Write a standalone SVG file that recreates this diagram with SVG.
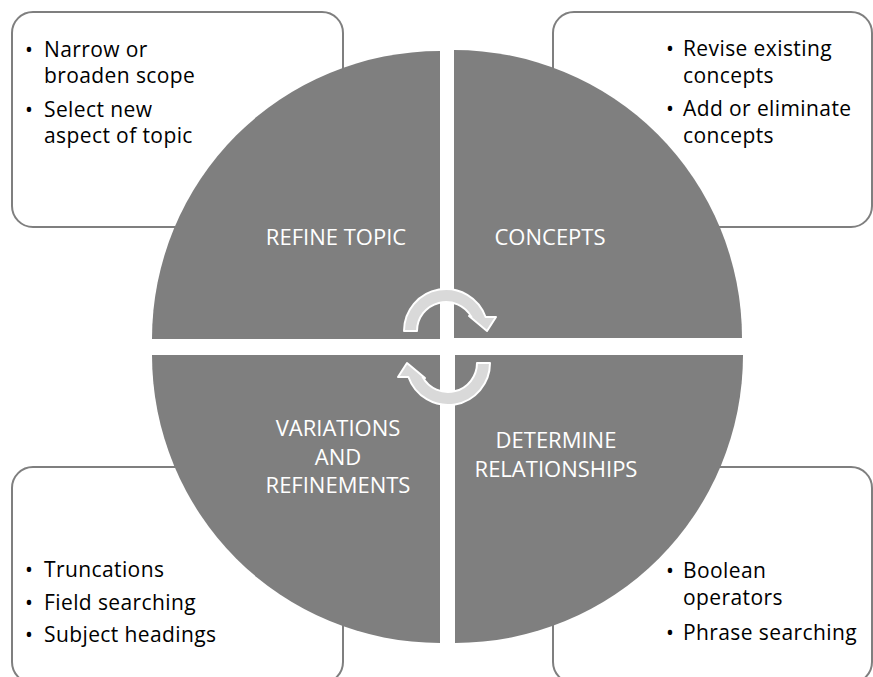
<svg xmlns="http://www.w3.org/2000/svg" width="873" height="677" viewBox="0 0 873 677">
<style>
.box{fill:#ffffff;stroke:#7f7f7f;stroke-width:2}
.quad{fill:#7f7f7f}
.lbl{font-family:"Open Sans","Liberation Sans",sans-serif;font-size:22px;fill:#ffffff;text-anchor:middle}
.txt{font-family:"Open Sans","Liberation Sans",sans-serif;font-size:21px;font-weight:500;letter-spacing:0.4px;fill:#000000}
.bul{font-family:"Open Sans","Liberation Sans",sans-serif;font-size:21px;font-weight:500;fill:#000000;text-anchor:middle}
.arrow{fill:#d9d9d9;stroke:#ffffff;stroke-width:2;stroke-linejoin:round}
</style>
<rect width="873" height="677" fill="#ffffff"/>
<g id="box-refine-topic">
<rect class="box" x="12" y="12" width="331" height="215" rx="21"/>
<text class="bul" x="29" y="57">•</text><text class="txt" x="44" y="57">Narrow or</text>
<text class="txt" x="44" y="83">broaden scope</text>
<text class="bul" x="29" y="117">•</text><text class="txt" x="44" y="117">Select new</text>
<text class="txt" x="44" y="143">aspect of topic</text>
</g>
<g id="box-concepts">
<rect class="box" x="553" y="12" width="319" height="215" rx="21"/>
<text class="bul" x="670" y="56">•</text><text class="txt" x="683" y="56">Revise existing</text>
<text class="txt" x="683" y="83">concepts</text>
<text class="bul" x="670" y="116">•</text><text class="txt" x="683" y="116">Add or eliminate</text>
<text class="txt" x="683" y="143">concepts</text>
</g>
<g id="box-variations">
<rect class="box" x="12" y="467" width="331" height="216" rx="21"/>
<text class="bul" x="29" y="577">•</text><text class="txt" x="44" y="577">Truncations</text>
<text class="bul" x="29" y="610">•</text><text class="txt" x="44" y="610">Field searching</text>
<text class="bul" x="29" y="642">•</text><text class="txt" x="44" y="642">Subject headings</text>
</g>
<g id="box-relationships">
<rect class="box" x="553" y="467" width="319" height="216" rx="21"/>
<text class="bul" x="670" y="578">•</text><text class="txt" x="683" y="578">Boolean</text>
<text class="txt" x="683" y="605">operators</text>
<text class="bul" x="670" y="640">•</text><text class="txt" x="683" y="640">Phrase searching</text>
</g>
<g id="refine-topic">
<path class="quad" d="M440,339 L152,339 A288,288 0 0 1 440,51 Z"/>
<text class="lbl" x="336" y="245">REFINE TOPIC</text>
</g>
<g id="concepts">
<path class="quad" d="M454,338 L454,50 A288,288 0 0 1 742,338 Z"/>
<text class="lbl" x="550" y="245">CONCEPTS</text>
</g>
<g id="determine-relationships">
<path class="quad" d="M455,355 L743,355 A288,288 0 0 1 455,643 Z"/>
<text class="lbl" x="556" y="448">DETERMINE</text>
<text class="lbl" x="556" y="477">RELATIONSHIPS</text>
</g>
<g id="variations-and-refinements">
<path class="quad" d="M440,355 L440,643 A288,288 0 0 1 152,355 Z"/>
<text class="lbl" x="338" y="436">VARIATIONS</text>
<text class="lbl" x="338" y="465">AND</text>
<text class="lbl" x="338" y="493">REFINEMENTS</text>
</g>
<g id="connectors">
<path id="arrow-top" class="arrow" d="M404,331 A42,42 0 0 1 485.6,317 L496,317 L487,331 L469,316 L471.4,317 A29,29 0 0 0 417,331 Z"/>
<path id="arrow-bottom" class="arrow" transform="rotate(180 447 347)" d="M404,331 A42,42 0 0 1 485.6,317 L496,317 L487,331 L469,316 L471.4,317 A29,29 0 0 0 417,331 Z"/>
</g>
</svg>
